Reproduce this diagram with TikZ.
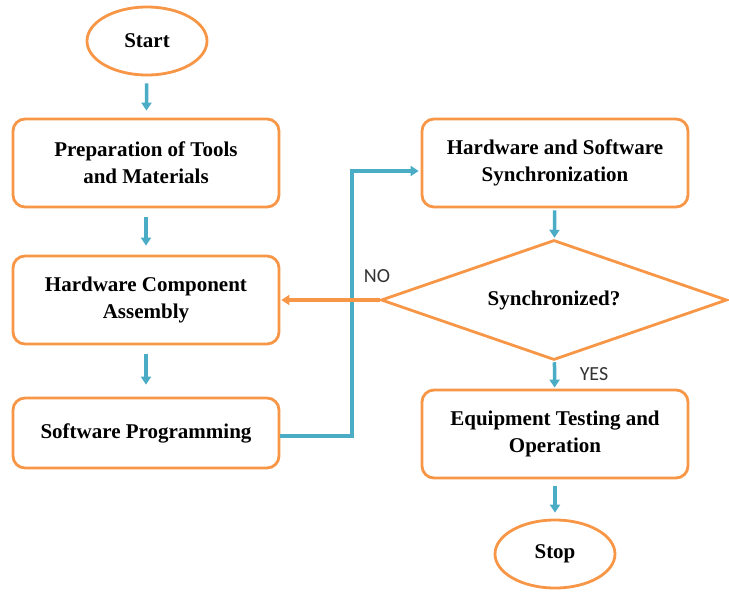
\documentclass[tikz,border=0pt]{standalone}
\usepackage{fontspec}
\setmainfont{Liberation Serif}
\newfontfamily\boxfont{Liberation Serif}
\newfontfamily\tagfont{Carlito}
\usetikzlibrary{positioning, arrows.meta, shapes.geometric}
\definecolor{boxorange}{HTML}{F79646}
\definecolor{flowblue}{HTML}{4BACC6}

\begin{document}
\begin{tikzpicture}[x=1pt, y=-1pt, >={Triangle[length=8pt, width=10pt]},
    txt/.style={font=\boxfont\fontsize{21}{27}\selectfont\bfseries},
    proc/.style={txt, draw=boxorange, line width=2.8pt, rounded corners=12pt,
        minimum width=266pt, minimum height=88pt, align=center},
    term/.style={txt, draw=boxorange, line width=2.8pt, ellipse,
        minimum width=120pt, minimum height=68pt},
    decide/.style={txt, draw=boxorange, line width=2.8pt, diamond, aspect=2.9,
        inner sep=0pt, minimum width=346pt, minimum height=120pt},
    flow/.style={->, draw=flowblue, line width=3.5pt},
    noflow/.style={->, draw=boxorange, line width=3.5pt},
    tag/.style={font=\tagfont\fontsize{20}{24}\selectfont, text=black!80}]
    \useasboundingbox (0,0) rectangle (729,595);
    % left column
    \node[term] (start) at (147,41) {Start};
    \node[proc] (prep) at (146,163) {Preparation of Tools\\and Materials};
    \node[proc] (assy) at (146,300) {Hardware Component\\Assembly};
    \node[proc, minimum height=70pt] (code) at (146,433) {Software Programming};
    % right column
    \node[proc] (sync) at (555,163) {Hardware and Software\\Synchronization};
    \node[decide] (check) at (554,300) {Synchronized?};
    \node[proc] (test) at (555,434) {Equipment Testing and\\Operation};
    \node[term] (stop) at (555,554) {Stop};
    \coordinate (bend) at (352,300);
    % straight arrows
    \draw[flow, shorten <=7pt, shorten >=7pt] (start) -- (prep);
    \draw[flow, shorten <=9pt, shorten >=9pt] (prep) -- (assy);
    \draw[flow, shorten <=9pt, shorten >=12pt] (assy) -- (code);
    \draw[flow, shorten <=2pt, shorten >=1pt] (sync) -- (check);
    \draw[flow, shorten <=1pt, shorten >=1pt] (check) -- (test);
    \draw[flow, shorten <=7pt, shorten >=6pt] (test) -- (stop);
    % loop back and forward
    \draw[flow, shorten >=2pt]
        ([yshift=-3pt]code.east) -| (bend) |- ([yshift=-8pt]sync.west);
    \draw[noflow, shorten >=1pt] (check.west) -- (assy.east);
    \node[tag] (no) at (377,276) {NO};
    \node[tag] (yes) at (594,374) {YES};
\end{tikzpicture}
\end{document}
